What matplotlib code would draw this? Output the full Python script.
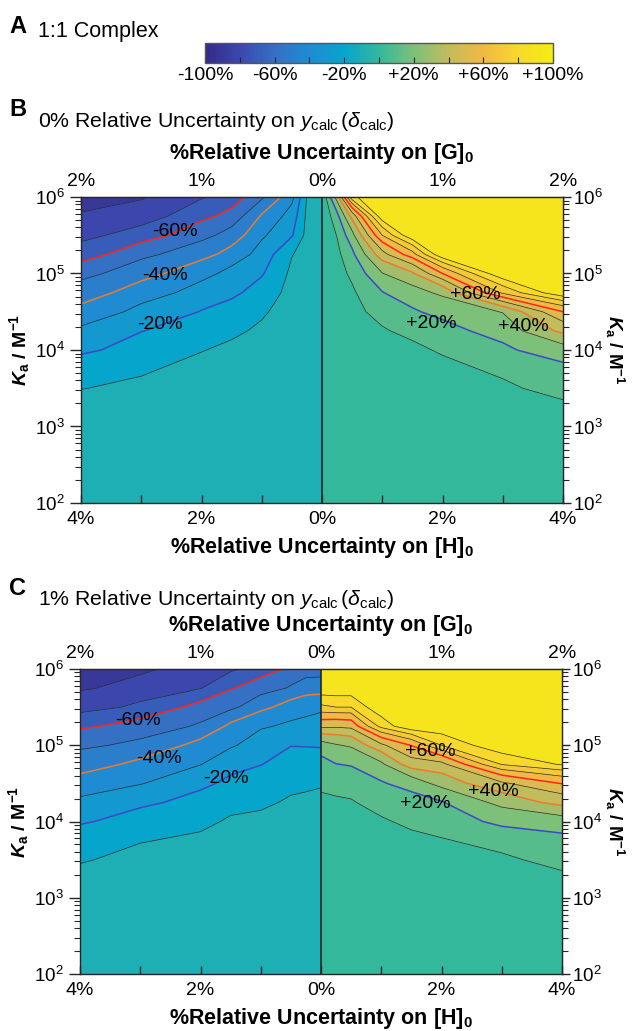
import numpy as np
import matplotlib
matplotlib.use('Agg')
import matplotlib.pyplot as plt
from matplotlib.colors import LinearSegmentedColormap, Normalize
from matplotlib.cm import ScalarMappable

plt.rcParams['font.family'] = ['Liberation Sans', 'DejaVu Sans']
plt.rcParams['mathtext.fontset'] = 'custom'
plt.rcParams['mathtext.rm'] = 'Liberation Sans'
plt.rcParams['mathtext.it'] = 'Liberation Sans:italic'
plt.rcParams['mathtext.bf'] = 'Liberation Sans:bold'
if 'mathtext.bfit' in plt.rcParams:
    plt.rcParams['mathtext.bfit'] = 'Liberation Sans:bold:italic'

# grid: |%uncertainty on [H]0| (columns) and log10 Ka (rows)
h_unc = np.array([0, 0.25, 0.5, 1, 1.5, 2, 3, 4])
log_ka = np.array([2, 3, 3.5, 4, 4.25, 4.5, 4.75, 5, 5.25, 5.5, 5.75, 6])
ka = 10 ** log_ka

# panel B (0% uncertainty on y_calc), % error in Ka
b_neg = [
    [-0.5, -1, -1, -1, -1, -1.5, -1.5, -2],
    [-0.5, -1, -1.5, -2, -3, -4, -5, -6],
    [-0.5, -1.5, -2, -4, -5.5, -7, -8.5, -10.2],
    [-0.5, -2, -3, -7, -8.5, -10.3, -15.9, -22.1],
    [-0.5, -2.5, -4, -8.5, -11.7, -14.8, -20.3, -28.1],
    [-0.5, -3, -5, -11.5, -16.9, -19.6, -27, -37.4],
    [-0.5, -4, -6.5, -16.2, -22, -25.9, -35.4, -45],
    [-0.5, -5, -8, -21, -26.9, -33.5, -43.9, -53.5],
    [-0.5, -6, -10.5, -26.1, -36.4, -43.6, -52.8, -65.4],
    [-0.5, -7, -21, -31.7, -46, -53.4, -65.5, -73.1],
    [-0.5, -8, -26, -38.9, -56.7, -62.9, -75.6, -79],
    [-0.5, -9.5, -33, -52, -66, -71, -81, -85],
]
b_pos = [
    [0.5, 0.5, 1, 1, 1, 1.5, 1.5, 2],
    [0.5, 0.5, 1.5, 2, 2.5, 3, 4, 6],
    [0.5, 1, 2, 4, 5, 6, 8.5, 13],
    [0.5, 1.5, 3.5, 6.5, 8, 11.1, 18.2, 25.8],
    [0.5, 2, 5, 9, 12.7, 16.7, 23.9, 42.7],
    [0.5, 3, 6.5, 14.1, 18.8, 23, 30.5, 60],
    [0.5, 4, 8.5, 19.6, 26, 32.2, 72, 99],
    [0.5, 5.5, 12.3, 29.6, 38.6, 60, 99, 99],
    [0.5, 7.5, 17.7, 46.4, 66, 99, 99, 99],
    [0.5, 10.5, 27, 70, 99, 99, 99, 99],
    [0.5, 17, 43.3, 98, 99, 99, 99, 99],
    [1, 35, 88, 99, 99, 99, 99, 99],
]

# panel C (1% uncertainty on y_calc)
c_neg = [
    [-1, -1, -1, -1, -1, -1.5, -1.5, -2],
    [-3, -3, -3, -3.5, -4, -4.5, -5, -6],
    [-4.5, -4.5, -5, -5.5, -6, -7, -7.5, -10.8],
    [-6.5, -7, -7.5, -8.5, -9, -11.9, -15.9, -21.3],
    [-8, -8.5, -9, -11.4, -12.9, -16.7, -22.1, -27.9],
    [-10.8, -11.6, -12.2, -15.7, -17.7, -22.4, -30.6, -36.5],
    [-15.8, -16, -16.1, -20.3, -23.9, -30.3, -37.7, -44.6],
    [-20.8, -20.5, -20.3, -25.3, -31.3, -36.8, -47.7, -52.1],
    [-25.8, -26.8, -28.3, -31.2, -37.8, -48.7, -56.1, -61.9],
    [-32.1, -34.3, -35.6, -43, -52.6, -56.6, -68, -74.3],
    [-44.8, -44.5, -49, -55, -60.8, -70.5, -76.5, -81.3],
    [-55, -56, -58, -65, -72, -75, -82, -86],
]
c_pos = [
    [1, 1, 1, 1, 1, 1.5, 1.5, 2],
    [3, 3, 3, 3.5, 4, 4.5, 5, 6],
    [4.5, 4.5, 5, 6, 6.5, 7, 8.5, 12.8],
    [6.5, 7, 7.5, 9, 11.7, 13.9, 22.8, 25.5],
    [8, 8.5, 9.2, 13.7, 16.3, 19.3, 33.2, 43.6],
    [12.3, 14, 14.8, 19.1, 23.8, 33.8, 48.3, 60.5],
    [16.7, 19.8, 20.7, 28.1, 45.7, 47, 80.5, 91],
    [25.5, 29.2, 31.4, 48, 60.5, 80, 99, 99],
    [52.9, 51.7, 52.9, 83.3, 99, 99, 99, 99],
    [78, 80, 80, 99, 99, 99, 99, 99],
    [99, 99, 99, 99, 99, 99, 99, 99],
    [99, 99, 99, 99, 99, 99, 99, 99],
]

# contour label text and where it sits (signed %[H]0, Ka)
b_labels = [(-2.44, 10**5.55, '-60%'), (-2.61, 10**4.98, '-40%'), (-2.69, 10**4.33, '-20%'),
            (2.54, 10**4.73, '+60%'), (1.82, 10**4.34, '+20%'), (3.34, 10**4.31, '+40%')]
c_labels = [(-3.04, 10**5.32, '-60%'), (-2.69, 10**4.82, '-40%'), (-1.58, 10**4.57, '-20%'),
            (1.81, 10**4.92, '+60%'), (2.86, 10**4.39, '+40%'), (1.73, 10**4.24, '+20%')]

ka_ticks = [1e2, 1e3, 1e4, 1e5, 1e6]
cbar_ticks = [-100, -60, -20, 20, 60, 100]
cbar_ticklabels = ['-100%', '-60%', '-20%', '+20%', '+60%', '+100%']

# parula-like map, a little muted as in the printed figure
parula = LinearSegmentedColormap.from_list(
    'parula', [(0.0, '#352a87'), (0.1, '#3b48ae'), (0.2, '#3570c4'), (0.3, '#1f8cd2'),
               (0.4, '#06a5cc'), (0.5, '#33b89c'), (0.6, '#7dc07a'), (0.7, '#c2bc5e'),
               (0.8, '#f2b844'), (0.9, '#f8d82a'), (1.0, '#f4ee12')])
norm = Normalize(-100, 100)
levels = np.arange(-100, 101, 10)
band_colors = [parula(norm(v)) for v in levels[:-1]]
line_levels = [v for v in range(-90, 91, 10) if v != 0]
special = {20: '#3c48c8', 40: '#f07a2a', 60: '#ff2418'}
line_colors = [special.get(abs(v), '#2a2a2a') for v in line_levels]
line_widths = [1.1 if abs(v) in special else 0.5 for v in line_levels]

edge = '#262626'
ka_label = '$\\mathbfit{K}_\\mathbf{a}$ / M$^\\mathbf{-1}$'
W, H = 634, 1031


def draw_panel(fig, ax, z_neg, z_pos, labels):
    zn = np.array(z_neg)[:, ::-1]
    zp = np.array(z_pos)
    xl = -h_unc[::-1]
    ax.contourf(xl, ka, zn, levels=levels, colors=band_colors)
    ax.contourf(h_unc, ka, zp, levels=levels, colors=band_colors)
    ax.contour(xl, ka, zn, levels=line_levels, colors=line_colors, linewidths=line_widths)
    ax.contour(h_unc, ka, zp, levels=line_levels, colors=line_colors, linewidths=line_widths)
    ax.axvline(0, color=edge, lw=1.2)
    for x, y, s in labels:
        ax.text(x, y, s, ha='center', va='center', fontsize=14)

    ax.set_yscale('log')
    ax.set_xlim(-4, 4)
    ax.set_ylim(1e2, 1e6)
    ax.set_yticks(ka_ticks)
    ax.set_xticks([-4, -2, 0, 2, 4], ['4%', '2%', '0%', '2%', '4%'])
    ax.set_xticks([-3, -1, 1, 3], minor=True)
    ax.tick_params(axis='x', which='both', direction='in', length=6, width=1,
                   color=edge, labelsize=14, pad=6)
    ax.tick_params(axis='y', which='major', direction='out', length=8, width=1,
                   color=edge, labelsize=13.5)
    ax.tick_params(axis='y', which='minor', direction='out', length=4, width=0.8, color=edge)
    for sp in ax.spines.values():
        sp.set_color(edge)
        sp.set_linewidth(1)
    ax.set_xlabel('%Relative Uncertainty on [H]$_\\mathbf{0}$', fontsize=15.5,
                  fontweight='bold', labelpad=5)
    ax.set_ylabel(ka_label, fontsize=14, fontweight='bold', labelpad=2)

    top = ax.secondary_xaxis('top')
    top.set_xticks([-4, -2, 0, 2, 4], ['2%', '1%', '0%', '1%', '2%'])
    top.set_xticks([-3, -1, 1, 3], minor=True)
    top.tick_params(which='both', direction='in', length=6, width=1, color=edge,
                    labelsize=14, pad=5)
    top.spines['top'].set_color(edge)
    top.set_xlabel('%Relative Uncertainty on [G]$_\\mathbf{0}$', fontsize=15.5,
                   fontweight='bold', labelpad=10)

    right = ax.secondary_yaxis('right')
    right.set_yticks(ka_ticks)
    right.tick_params(which='major', direction='out', length=6, width=1, color=edge,
                      labelsize=13.5, pad=1)
    right.tick_params(which='minor', direction='out', length=4, width=0.8, color=edge)
    right.spines['right'].set_color(edge)

    # right-hand axis title, reading downwards
    box = ax.get_position()
    fig.text(615 / W, box.y0 + box.height / 2, ka_label, fontsize=13.5, fontweight='bold',
             rotation=-90, ha='center', va='center')


fig = plt.figure(figsize=(6.34, 10.31), dpi=100)
axB = fig.add_axes([81 / W, 1 - 503 / H, 482 / W, 306 / H])
axC = fig.add_axes([80 / W, 1 - 974 / H, 482 / W, 305 / H])
cax = fig.add_axes([205 / W, 1 - 63 / H, 348 / W, 20 / H])

draw_panel(fig, axB, b_neg, b_pos, b_labels)
draw_panel(fig, axC, c_neg, c_pos, c_labels)

sm = ScalarMappable(norm=norm, cmap=parula)
cb = fig.colorbar(sm, cax=cax, orientation='horizontal')
cb.set_ticks(cbar_ticks, labels=cbar_ticklabels)
cb.ax.set_xticks([-80, -40, 0, 40, 80], minor=True)
cb.ax.tick_params(which='both', direction='in', length=4, width=0.8, color=edge,
                  labelsize=14, pad=3)
cb.outline.set_edgecolor('#555555')
cb.outline.set_linewidth(1)

fig.text(9 / W, 1 - 33 / H, 'A', fontsize=17, fontweight='bold')
fig.text(38 / W, 1 - 37 / H, '1:1 Complex', fontsize=15.5)
fig.text(9 / W, 1 - 116 / H, 'B', fontsize=17, fontweight='bold')
fig.text(38 / W, 1 - 127 / H,
         '0% Relative Uncertainty on $y_{\\mathrm{calc}}\\,(\\delta_{\\mathrm{calc}})$',
         fontsize=15.3)
fig.text(9 / W, 1 - 595 / H, 'C', fontsize=17, fontweight='bold')
fig.text(38 / W, 1 - 605 / H,
         '1% Relative Uncertainty on $y_{\\mathrm{calc}}\\,(\\delta_{\\mathrm{calc}})$',
         fontsize=15.3)

fig.savefig('out.png', dpi=100)
